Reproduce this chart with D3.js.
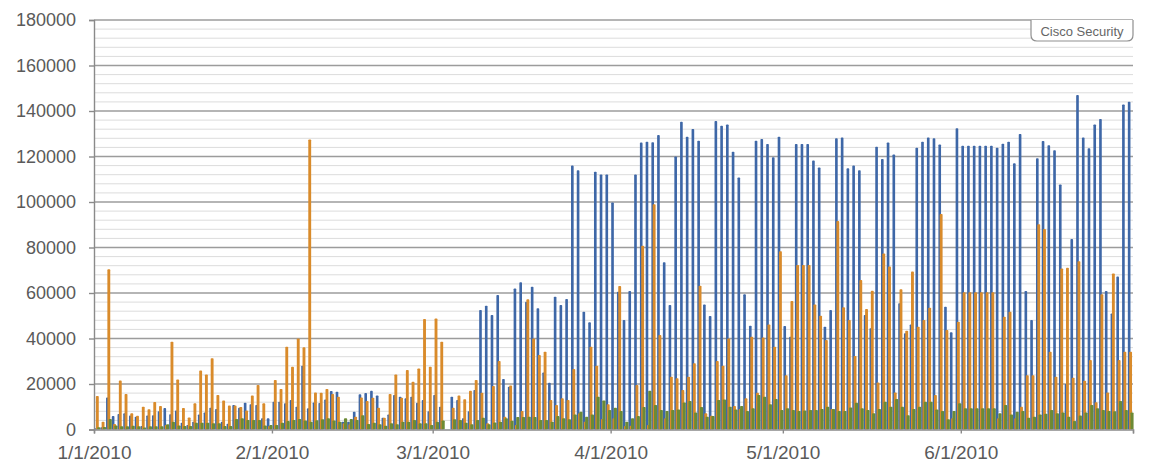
<!DOCTYPE html>
<html>
<head>
<meta charset="utf-8">
<script src="https://cdn.jsdelivr.net/npm/d3@7"></script>
<style>
  body { margin: 0; background: #fff; }
  svg { display: block; font-family: "Liberation Sans", Arial, sans-serif; }
</style>
</head>
<body>
<div id="chart"></div>
<script>
// daily values, 1/1/2010 .. 6/30/2010
const blueValues = [
  500, 1000, 14100, 5900, 6800, 7100, 6100, 5600, 1500, 6200,
  6300, 8000, 9400, 6700, 8300, 3000, 2000, 3400, 6600, 7500,
  9600, 9000, 3400, 2500, 10800, 9600, 11800, 11100, 10800, 4900,
  4900, 12200, 12200, 11500, 13000, 10000, 28000, 9300, 11900, 11700,
  13200, 16900, 16600, 3400, 3400, 7800, 15500, 16000, 17000, 15000,
  5200, 6600, 15200, 14400, 13700, 14400, 11800, 13000, 8000, 15200,
  10000, 0, 14400, 13000, 5000, 8000, 17400, 52500, 54400, 50300,
  59100, 22200, 18800, 62000, 64700, 56200, 62800, 53300, 25100, 20600,
  58400, 54700, 57400, 116000, 114000, 51800, 47100, 113300, 112100, 112100,
  99800, 60600, 48100, 60900, 112100, 126100, 126500, 126300, 129400, 73500,
  54700, 120000, 135300, 128700, 132100, 126900, 55000, 49900, 135600, 133500,
  134100, 122100, 110800, 59400, 45600, 126900, 127700, 125500, 119700, 128700,
  45500, 40800, 125500, 125500, 125500, 118200, 115200, 45200, 52500, 128000,
  128300, 114800, 116000, 114000, 50300, 44500, 124300, 118900, 126200, 120900,
  55500, 42300, 46200, 123900, 126500, 128300, 128000, 125300, 54000, 42700,
  132400, 124700, 124700, 124700, 124700, 124700, 124700, 123900, 125600, 126500,
  117000, 129900, 60900, 48100, 119200, 126800, 125000, 122800, 107700, 20000,
  83700, 147000, 128300, 123600, 134100, 136500, 60900, 51000, 67200, 142900,
  144100
];
const orangeValues = [
  14700, 3400, 70400, 2400, 21500, 15600, 7100, 6000, 10000, 8900,
  12100, 10300, 2000, 38600, 22000, 9500, 5300, 11500, 25900, 24200,
  31300, 15200, 12700, 10500, 10500, 9900, 8400, 14900, 19600, 11500,
  1500, 21800, 17800, 36400, 27600, 40000, 36100, 127500, 16300, 16200,
  17800, 15600, 14400, 2700, 2300, 5600, 14100, 12500, 14000, 9600,
  5200, 15600, 24200, 14000, 26100, 21000, 26800, 48600, 27600, 48800,
  38600, 0, 9600, 14900, 13300, 17000, 21800, 16200, 2700, 19100,
  30100, 5600, 19300, 2000, 8100, 57200, 40000, 32700, 34200, 13000,
  10800, 13700, 13000, 26600, 7100, 3400, 36400, 28000, 4600, 11100,
  5000, 63100, 1500, 1700, 19600, 80800, 2000, 99000, 41500, 5000,
  23200, 22500, 17400, 23200, 29100, 63200, 7100, 6000, 30100, 28000,
  40000, 10300, 9000, 13700, 40800, 16200, 40400, 46200, 36400, 78400,
  23900, 56500, 72300, 72300, 72300, 55000, 50000, 39300, 9000, 91600,
  53700, 48100, 32300, 65700, 53000, 61000, 20700, 77400, 71600, 16300,
  61700, 43400, 69400, 45200, 48100, 53500, 15200, 94700, 43700, 5000,
  47400, 60300, 60300, 60300, 60300, 60300, 60300, 5000, 49600, 51800,
  5000, 10000, 23900, 23900, 90200, 88100, 34200, 23200, 70800, 71100,
  22800, 74000, 21400, 30500, 12000, 59400, 16300, 68600, 30500, 34200,
  34200
];
const greenValues = [
  950, 1100, 4600, 1800, 1400, 1400, 1600, 1400, 900, 1400,
  1400, 1400, 2300, 3400, 1800, 1500, 1500, 3000, 3000, 3000,
  2700, 2700, 1500, 1500, 4600, 4900, 4200, 4200, 4200, 1800,
  2000, 2000, 3000, 3700, 4200, 4600, 4000, 3400, 4100, 4500,
  4900, 4000, 3400, 4900, 4600, 4200, 6300, 2400, 3000, 2300,
  1700, 2700, 2300, 3400, 3400, 4200, 2700, 2700, 2000, 3400,
  4000, 0, 4500, 4200, 3000, 2300, 4200, 5200, 2300, 3100,
  3400, 4900, 3900, 5500, 5500, 5600, 5500, 4200, 4200, 3400,
  5900, 4900, 4500, 6600, 7800, 5600, 6600, 14400, 12800, 8600,
  9600, 8100, 3400, 4900, 5900, 9900, 17000, 10800, 8600, 8100,
  8600, 8800, 11900, 12500, 7500, 9900, 5600, 5900, 13000, 13200,
  10000, 8800, 10300, 8100, 9300, 15200, 14400, 11100, 13400, 8600,
  9300, 8600, 8100, 8300, 8600, 8600, 9000, 10000, 9000, 8100,
  8100, 9700, 11800, 9300, 8600, 7100, 9000, 12200, 10000, 13400,
  10000, 6300, 9000, 10000, 12200, 12200, 8800, 8100, 4500, 8100,
  11500, 9300, 9300, 9300, 9300, 9300, 9300, 7100, 10800, 6600,
  7800, 8100, 5200, 5600, 6600, 6900, 8600, 7100, 7500, 5600,
  3700, 6100, 7500, 10800, 9300, 8600, 8100, 8000, 12500, 8600,
  7500
];
const monthLabels = ["1/1/2010", "2/1/2010", "3/1/2010", "4/1/2010", "5/1/2010", "6/1/2010", ""];
const yTicks = [0, 20000, 40000, 60000, 80000, 100000, 120000, 140000, 160000, 180000];

const startDate = new Date(Date.UTC(2010, 0, 1));
const endDate = new Date(Date.UTC(2010, 6, 1));
const days = d3.utcDay.range(startDate, endDate);
const monthDates = d3.utcMonth.range(startDate, d3.utcDay.offset(endDate, 1));

const width = 1150, height = 465;
const plot = { left: 94, right: 1133, top: 20, bottom: 429.5 };

const svg = d3.select("#chart").append("svg")
  .attr("width", width)
  .attr("height", height);

const x = d3.scaleUtc().domain([startDate, endDate]).range([plot.left, plot.right]);
const y = d3.scaleLinear().domain([0, 180000]).range([plot.bottom, plot.top]);
const dayW = x(d3.utcDay.offset(startDate, 1)) - x(startDate);

// minor grid every 4000
svg.append("g")
  .selectAll("line")
  .data(d3.range(0, 180001, 4000).filter(v => v % 20000 !== 0))
  .join("line")
  .attr("x1", plot.left).attr("x2", plot.right)
  .attr("y1", d => y(d)).attr("y2", d => y(d))
  .attr("stroke", "#dcdcdc")
  .attr("stroke-width", 1);

// major grid
svg.append("g")
  .selectAll("line")
  .data(yTicks.filter(v => v > 0))
  .join("line")
  .attr("x1", plot.left).attr("x2", plot.right)
  .attr("y1", d => y(d)).attr("y2", d => y(d))
  .attr("stroke", "#9c9c9c")
  .attr("stroke-width", 1.4);

// bars
const series = [
  { values: blueValues, color: "#3e67a7", off: 0.1, w: 0.46 },
  { values: orangeValues, color: "#d98b2b", off: 0.33, w: 0.5 },
  { values: greenValues, color: "#6c8a35", off: 0.55, w: 0.55 }
];
series.forEach(s => {
  svg.append("g")
    .selectAll("rect")
    .data(days)
    .join("rect")
    .attr("x", (d, i) => x(d) + s.off * dayW)
    .attr("width", s.w * dayW)
    .attr("y", (d, i) => y(s.values[i]))
    .attr("height", (d, i) => y(0) - y(s.values[i]))
    .attr("rx", 0.8)
    .attr("fill", s.color);
});

// y axis
const yAxis = svg.append("g")
  .attr("transform", `translate(${plot.left},0)`)
  .call(d3.axisLeft(y).tickValues(yTicks).tickSize(5).tickPadding(13).tickFormat(d3.format("d")));
yAxis.select(".domain").attr("stroke", "#8a8a8a").attr("stroke-width", 1.4);
yAxis.selectAll(".tick line").attr("stroke", "#8a8a8a").attr("stroke-width", 1.4);
yAxis.selectAll("text")
  .attr("fill", "#5a5a5a")
  .style("font-size", "18px");

// x axis
const xAxis = svg.append("g")
  .attr("transform", `translate(0,${plot.bottom})`)
  .call(d3.axisBottom(x).tickValues(monthDates).tickSize(4).tickPadding(12)
    .tickFormat((d, i) => monthLabels[i]));
xAxis.select(".domain").attr("stroke", "#8a8a8a").attr("stroke-width", 1.4);
xAxis.selectAll(".tick line").attr("stroke", "#8a8a8a").attr("stroke-width", 1.4);
xAxis.selectAll("text")
  .attr("fill", "#5a5a5a")
  .style("font-size", "19px");

// source tag
const tag = svg.append("g");
const bx0 = 1031, bx1 = plot.right, by0 = plot.top, by1 = 41, r = 6;
tag.append("path")
  .attr("d", `M${bx0},${by0} L${bx0},${by1 - r} Q${bx0},${by1} ${bx0 + r},${by1} L${bx1 - r},${by1} Q${bx1},${by1} ${bx1},${by1 - r} L${bx1},${by0}`)
  .attr("fill", "#fff")
  .attr("stroke", "#8f8f8f")
  .attr("stroke-width", 1.2);
tag.append("text")
  .attr("x", (bx0 + bx1) / 2)
  .attr("y", 35.5)
  .attr("text-anchor", "middle")
  .attr("fill", "#666")
  .style("font-size", "13px")
  .text("Cisco Security");
</script>
</body>
</html>
